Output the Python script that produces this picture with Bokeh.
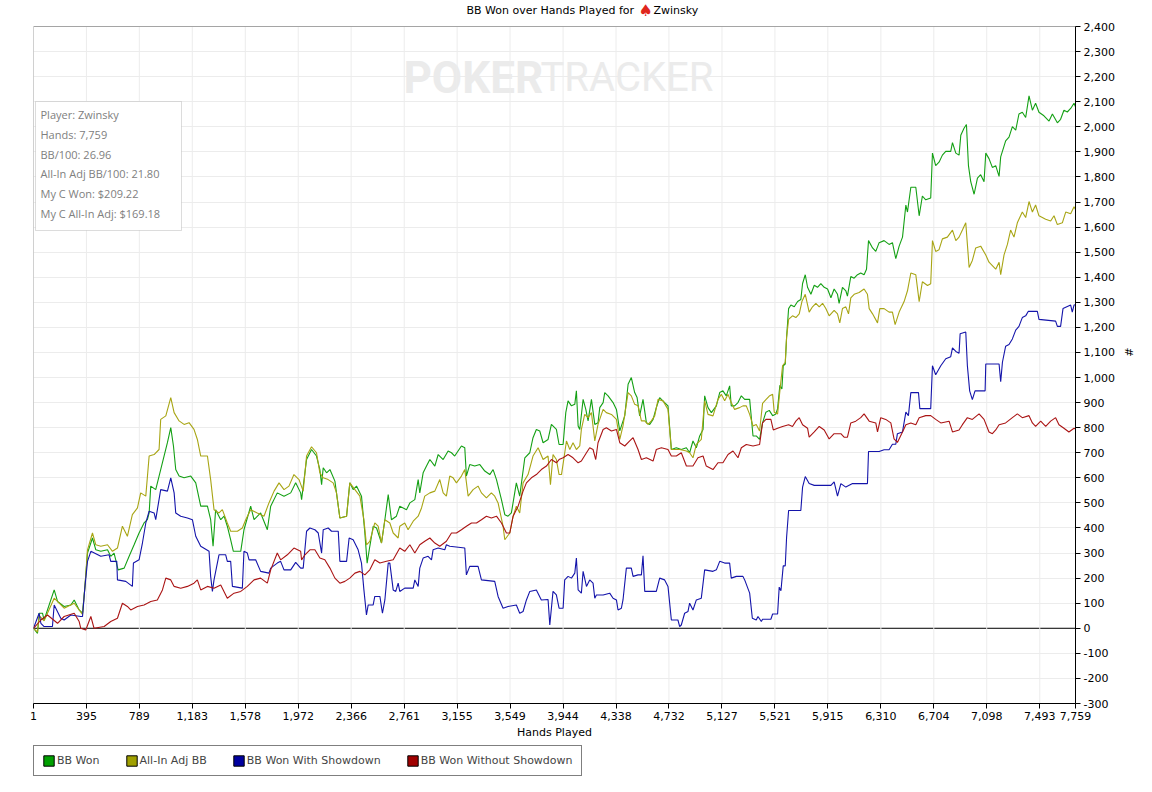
from bokeh.plotting import figure
from bokeh.layouts import column
from bokeh.models import (Range1d, FixedTicker, NumeralTickFormatter, Legend, LegendItem,
                          Span, Label, BoxAnnotation)
from bokeh.embed import file_html
from bokeh.resources import INLINE

# ---------------- data (hands played, BB) ----------------
x_ticks = [1, 395, 789, 1183, 1578, 1972, 2366, 2761, 3155, 3549, 3944, 4338, 4732,
           5127, 5521, 5915, 6310, 6704, 7098, 7493, 7759]
y_ticks = [-300, -200, -100, 0, 100, 200, 300, 400, 500, 600, 700, 800, 900, 1000, 1100,
           1200, 1300, 1400, 1500, 1600, 1700, 1800, 1900, 2000, 2100, 2200, 2300, 2400]

title_parts = ["BB Won over Hands Played for", "\u2660", "Zwinsky"]
series_names = ["BB Won", "All-In Adj BB", "BB Won With Showdown", "BB Won Without Showdown"]

info_lines = ["Player: Zwinsky", "Hands: 7,759", "BB/100: 26.96",
              "All-In Adj BB/100: 21.80", "My C Won: $209.22", "My C All-In Adj: $169.18"]

bb_won = [(1,0),(31,-20),(43,60),(68,60),(80,33),(155,153),(180,107),(229,87),(279,93),(304,113),
    (341,73),(366,60),(383,160),(403,300),(440,360),(465,313),(502,307),(552,313),(576,287),(601,300),
    (631,233),(676,240),(713,287),(750,333),(787,380),(824,420),(849,433),(862,460),(874,567),(911,553),
    (936,607),(973,687),(998,740),(1023,800),(1043,727),(1060,633),(1085,607),(1122,600),(1172,607),
    (1209,580),(1246,487),(1296,487),(1320,433),(1338,327),(1357,473),(1395,433),(1420,447),(1444,407),
    (1469,353),(1489,307),(1544,307),(1568,393),(1618,487),(1643,433),(1692,460),(1742,393),(1767,487),
    (1816,540),(1866,527),(1916,540),(1953,580),(1990,540),(1997,513),(2034,673),(2071,713),(2108,687),
    (2133,633),(2146,573),(2158,640),(2183,620),(2208,633),(2245,587),(2282,440),(2332,447),(2356,580),
    (2381,553),(2406,567),(2443,527),(2468,380),(2485,260),(2505,327),(2530,407),(2555,400),(2592,340),
    (2617,433),(2642,533),(2666,433),(2703,447),(2728,487),(2778,473),(2803,500),(2840,513),(2865,593),
    (2877,540),(2902,620),(2927,647),(2952,673),(2989,647),(3014,693),(3051,673),(3088,707),(3113,700),
    (3137,687),(3162,707),(3187,727),(3212,720),(3224,607),(3249,653),(3286,647),(3324,653),(3361,627),
    (3398,613),(3423,633),(3448,593),(3485,513),(3510,453),(3534,447),(3559,460),(3596,580),(3621,527),
    (3659,680),(3696,700),(3720,760),(3745,793),(3770,787),(3795,740),(3832,753),(3857,813),(3894,793),
    (3914,733),(3944,733),(3964,860),(3981,907),(4006,887),(4031,893),(4043,947),(4056,807),(4068,793),
    (4093,913),(4113,873),(4130,827),(4155,913),(4180,813),(4204,820),(4217,880),(4242,900),(4254,940),
    (4279,927),(4316,900),(4341,873),(4366,787),(4403,847),(4428,973),(4452,1000),(4477,940),(4495,920),
    (4514,847),(4539,913),(4564,820),(4589,813),(4614,833),(4638,880),(4663,920),(4700,900),(4725,887),
    (4750,713),(4787,720),(4824,713),(4862,720),(4886,700),(4911,747),(4936,720),(4961,767),(4986,793),
    (4998,927),(5023,880),(5048,860),(5085,887),(5110,940),(5134,947),(5159,927),(5184,967),(5196,887),
    (5221,887),(5246,900),(5271,927),(5296,913),(5333,913),(5358,767),(5382,767),(5407,753),
    (5429,819),(5454,862),(5479,869),(5504,848),(5528,855),(5541,876),(5558,969),(5573,954),(5583,1047),
    (5598,1054),(5608,1161),(5623,1275),(5640,1289),(5665,1282),(5690,1303),(5714,1311),(5727,1375),
    (5747,1410),(5764,1360),(5789,1332),(5814,1368),(5838,1360),(5863,1375),(5888,1360),(5913,1353),
    (5938,1318),(5962,1353),(5987,1332),(5999,1296),(6024,1360),(6049,1346),(6061,1325),(6086,1403),
    (6111,1396),(6136,1410),(6160,1417),(6185,1410),(6203,1432),(6218,1546),(6248,1517),(6272,1503),
    (6297,1538),(6334,1546),(6371,1531),(6396,1538),(6421,1474),(6446,1524),(6471,1560),(6496,1688),
    (6508,1660),(6533,1759),(6570,1759),(6595,1645),(6619,1724),(6644,1709),(6681,1716),(6694,1895),
    (6718,1845),(6743,1859),(6768,1887),(6793,1902),(6830,1902),(6843,1937),(6868,1895),(6892,1887),
    (6905,1966),(6929,1994),(6947,2009),(6962,1845),(6979,1781),(7004,1731),(7029,1795),(7053,1809),
    (7078,1781),(7091,1895),(7115,1873),(7140,1838),(7165,1845),(7190,1802),(7202,1880),(7239,1944),
    (7264,1959),(7289,2001),(7314,1987),(7338,2051),(7363,2058),(7388,2037),(7413,2123),(7438,2066),
    (7462,2094),(7487,2058),(7524,2044),(7562,2023),(7587,2051),(7624,2016),(7648,2030),(7673,2066),
    (7698,2059),(7723,2073),(7748,2094),(7759,2080)]

allin_adj_bb = [(1,0),(31,-15),(43,50),(80,30),(155,120),(229,80),(304,100),(366,55),(383,160),(403,313),
    (440,380),(465,333),(502,327),(552,333),(589,307),(626,320),(663,407),(700,367),(737,453),(775,480),
    (799,540),(837,527),(862,687),(899,693),(936,713),(948,833),(986,847),(1023,920),(1048,860),(1085,827),
    (1122,813),(1159,820),(1196,793),(1221,753),(1246,687),(1296,687),(1320,593),(1345,473),(1382,460),
    (1407,473),(1444,420),(1469,387),(1519,387),(1556,400),(1581,433),(1618,473),(1667,460),(1717,447),
    (1754,500),(1792,547),(1829,580),(1866,553),(1903,567),(1940,613),(1978,593),(2009,547),(2034,687),
    (2071,724),(2108,700),(2133,620),(2158,600),(2195,593),(2232,580),(2257,540),(2282,440),(2332,447),
    (2356,580),(2394,553),(2431,527),(2461,433),(2480,333),(2505,347),(2542,420),(2567,407),(2592,340),
    (2617,433),(2654,420),(2679,380),(2716,360),(2728,407),(2765,420),(2790,393),(2828,427),(2865,447),
    (2890,480),(2914,527),(2952,540),(2989,547),(3026,593),(3051,540),(3075,527),(3100,607),(3125,600),
    (3150,580),(3187,607),(3212,633),(3237,527),(3274,553),(3311,567),(3336,540),(3373,520),(3410,540),
    (3435,527),(3460,500),(3497,407),(3510,353),(3547,380),(3572,447),(3596,487),(3621,460),(3646,580),
    (3683,613),(3720,687),(3758,720),(3795,673),(3832,687),(3850,573),(3869,693),(3894,673),(3914,613),
    (3932,613),(3949,673),(3969,747),(3994,713),(4018,740),(4043,713),(4068,727),(4080,793),(4105,853),
    (4130,840),(4155,860),(4180,747),(4204,813),(4242,873),(4266,860),(4304,853),(4341,833),(4366,753),
    (4390,807),(4428,940),(4452,927),(4477,893),(4502,887),(4527,827),(4552,827),(4576,813),(4601,827),
    (4626,847),(4651,913),(4688,907),(4725,873),(4750,713),(4812,713),(4862,707),(4886,700),(4911,680),
    (4936,733),(4973,753),(4998,907),(5023,853),(5060,847),(5097,913),(5122,933),(5147,907),(5172,933),
    (5196,900),(5221,873),(5258,880),(5283,887),(5308,887),(5333,853),(5358,807),(5382,813),(5407,787),
    (5429,897),(5454,912),(5479,926),(5504,933),(5516,862),(5541,855),(5558,947),(5578,1047),(5598,1061),
    (5608,1161),(5623,1232),(5652,1246),(5677,1239),(5702,1254),(5722,1303),(5747,1332),(5776,1261),
    (5801,1282),(5826,1296),(5851,1282),(5876,1296),(5900,1275),(5925,1246),(5962,1268),(5987,1254),
    (6004,1218),(6024,1275),(6049,1282),(6069,1254),(6086,1318),(6111,1332),(6148,1339),(6185,1353),
    (6210,1332),(6223,1275),(6248,1254),(6285,1218),(6302,1275),(6334,1275),(6371,1261),(6396,1261),
    (6416,1211),(6446,1261),(6483,1303),(6508,1346),(6533,1417),(6570,1410),(6595,1303),(6619,1382),
    (6657,1367),(6681,1374),(6694,1546),(6718,1503),(6743,1510),(6768,1553),(6805,1560),(6843,1588),
    (6868,1546),(6892,1560),(6917,1588),(6942,1617),(6967,1439),(6991,1467),(7016,1517),(7053,1524),
    (7091,1489),(7115,1460),(7140,1446),(7165,1432),(7190,1460),(7202,1410),(7227,1489),(7252,1531),
    (7276,1588),(7301,1560),(7326,1617),(7363,1660),(7388,1638),(7413,1702),(7438,1660),(7462,1688),
    (7487,1645),(7537,1631),(7574,1624),(7599,1645),(7624,1610),(7661,1617),(7686,1660),(7723,1653),
    (7748,1681),(7759,1670)]

bb_with_showdown = [(1,0),(43,60),(56,20),(80,7),(142,7),(155,93),(204,40),(229,33),(279,53),(353,47),
    (366,47),(383,160),(403,267),(428,307),(502,287),(564,293),(576,267),(621,267),(626,193),(688,187),
    (737,167),(745,260),(787,273),(812,340),(837,420),(862,467),(899,460),(911,433),(948,553),(998,547),
    (1023,600),(1048,540),(1060,460),(1097,447),(1147,440),(1184,433),(1209,367),(1246,327),(1308,307),
    (1320,207),(1333,147),(1345,193),(1382,293),(1432,293),(1444,267),(1469,267),(1482,167),(1556,160),
    (1568,307),(1593,300),(1606,273),(1655,273),(1692,227),(1754,220),(1767,240),(1816,260),(1841,267),
    (1866,233),(1916,233),(1953,263),(1990,240),(2009,240),(2034,387),(2059,400),(2096,393),(2121,380),
    (2146,300),(2158,393),(2195,400),(2220,387),(2270,387),(2282,267),(2332,267),(2351,360),(2381,353),
    (2418,313),(2443,260),(2461,153),(2480,53),(2493,93),(2530,93),(2542,127),(2580,127),(2599,60),
    (2617,113),(2642,260),(2654,260),(2679,153),(2698,147),(2716,180),(2728,147),(2765,160),(2828,160),
    (2840,193),(2865,167),(2877,240),(2902,280),(2939,287),(2964,273),(2976,313),(3014,320),(3063,313),
    (3075,333),(3100,327),(3212,320),(3224,213),(3249,247),(3311,247),(3336,193),(3435,187),(3460,127),
    (3497,80),(3534,87),(3596,93),(3621,60),(3646,67),(3671,113),(3696,147),(3745,153),(3782,113),
    (3832,115),(3845,13),(3869,147),(3894,133),(3914,80),(3944,80),(3956,193),(3981,207),(4006,200),
    (4031,220),(4043,280),(4056,153),(4080,140),(4093,227),(4118,167),(4142,193),(4167,180),(4180,120),
    (4192,133),(4242,133),(4291,140),(4316,120),(4341,113),(4353,73),(4378,80),(4390,113),(4415,240),
    (4452,240),(4465,207),(4502,213),(4527,213),(4539,289),(4552,147),(4638,147),(4663,200),(4700,193),
    (4725,167),(4750,33),(4799,33),(4812,7),(4824,13),(4849,60),(4874,67),(4886,100),(4911,73),(4936,113),
    (4973,120),(4998,233),(5060,227),(5085,233),(5110,267),(5147,260),(5184,260),(5196,200),(5234,207),
    (5283,207),(5296,193),(5333,140),(5353,40),(5382,33),(5395,47),(5420,27),(5429,36),(5491,36),
    (5504,57),(5541,57),(5553,164),(5566,150),(5583,249),(5598,249),(5608,363),(5623,470),(5714,470),
    (5727,563),(5747,605),(5776,577),(5814,570),(5900,570),(5938,570),(5962,584),(5987,527),(6012,577),
    (6049,563),(6099,577),(6210,577),(6218,705),(6297,705),(6334,712),(6371,712),(6396,734),(6421,734),
    (6433,776),(6471,783),(6496,862),(6515,848),(6533,940),(6590,940),(6600,876),(6681,876),(6694,1047),
    (6718,1011),(6756,1047),(6793,1075),(6830,1083),(6843,1118),(6868,1104),(6892,1097),(6900,1175),
    (6942,1182),(6954,1047),(6971,947),(6991,912),(7011,947),(7086,947),(7091,1054),(7190,1054),
    (7202,983),(7215,1061),(7239,1125),(7264,1132),(7289,1154),(7314,1189),(7338,1204),(7363,1239),
    (7388,1246),(7408,1264),(7475,1264),(7487,1232),(7611,1225),(7624,1204),(7648,1204),(7666,1275),
    (7723,1289),(7735,1261),(7748,1289),(7759,1290)]

bb_without_showdown = [(1,0),(56,33),(105,53),(180,20),(229,47),(304,60),(341,27),(353,0),(390,-7),
    (428,47),(452,0),(527,7),(576,27),(626,40),(663,100),(700,87),(725,73),(775,87),(824,93),(874,107),
    (923,113),(961,153),(986,200),(1023,193),(1048,167),(1097,160),(1147,167),(1196,180),(1221,193),
    (1246,153),(1296,167),(1345,160),(1395,173),(1444,120),(1494,140),(1544,147),(1593,167),(1643,193),
    (1692,200),(1742,180),(1767,233),(1816,300),(1841,273),(1891,293),(1940,320),(1990,307),(1997,273),
    (2022,293),(2059,313),(2096,313),(2133,280),(2170,273),(2208,240),(2245,200),(2282,180),(2319,187),
    (2356,200),(2394,220),(2431,227),(2468,213),(2505,233),(2542,273),(2580,260),(2629,267),(2679,273),
    (2728,320),(2765,307),(2803,333),(2840,300),(2877,333),(2914,347),(2952,360),(2989,340),(3026,327),
    (3075,347),(3113,380),(3150,380),(3187,393),(3224,407),(3262,420),(3299,420),(3336,433),(3373,447),
    (3410,440),(3448,447),(3485,420),(3522,380),(3547,380),(3572,447),(3609,487),(3646,547),(3671,580),
    (3708,600),(3745,613),(3782,633),(3820,647),(3857,673),(3894,660),(3914,673),(3944,680),(3981,693),
    (4018,680),(4056,660),(4080,667),(4118,700),(4142,720),(4167,713),(4187,673),(4204,740),(4242,793),
    (4266,800),(4304,787),(4341,793),(4366,740),(4403,727),(4440,747),(4465,760),(4502,713),(4527,673),
    (4564,680),(4614,667),(4638,713),(4676,720),(4725,713),(4750,687),(4787,687),(4824,700),(4862,647),
    (4911,647),(4948,680),(4986,687),(5010,647),(5060,633),(5097,660),(5134,660),(5172,693),(5209,707),
    (5246,680),(5271,720),(5308,733),(5358,727),(5407,733),(5429,819),(5454,833),(5491,833),(5509,791),
    (5541,798),(5578,805),(5623,812),(5652,805),(5677,826),(5702,840),(5727,812),(5764,798),(5776,762),
    (5814,783),(5851,805),(5888,791),(5925,755),(5962,776),(6012,776),(6036,762),(6061,762),(6086,819),
    (6123,826),(6160,840),(6185,855),(6223,826),(6272,819),(6285,783),(6309,840),(6346,833),(6384,819),
    (6408,755),(6433,741),(6471,783),(6496,812),(6533,819),(6570,812),(6595,840),(6644,848),(6681,848),
    (6718,833),(6756,819),(6818,826),(6843,783),(6892,791),(6917,812),(6954,840),(6991,833),(7041,855),
    (7078,833),(7115,783),(7140,776),(7165,791),(7190,812),(7239,819),(7289,840),(7326,855),(7363,840),
    (7413,848),(7438,819),(7462,805),(7500,826),(7537,805),(7574,826),(7611,840),(7636,812),(7673,798),
    (7710,783),(7748,798),(7759,795)]

line_colors = ["#14a014", "#a8a514", "#1414aa", "#aa1414"]
legend_colors = ["#00a000", "#a0a000", "#0000a0", "#a00000"]

# ---------------- layout constants (pixels) ----------------
FONT = "DejaVu Sans"
PLOT_TOP = 26          # top of the plotting box, px from canvas top
PLOT_H = 677           # height of the plotting box
FRAME_H = PLOT_H + PLOT_TOP   # frame extends up to the canvas top to host the title
BOTTOM = 39            # room for the x axis below the box

y_lo, y_hi = y_ticks[0], y_ticks[-1]
y_top = y_hi + PLOT_TOP * (y_hi - y_lo) / PLOT_H

p = figure(frame_width=1042, frame_height=FRAME_H, output_backend="svg", toolbar_location=None,
           title_location=None,
           x_range=Range1d(x_ticks[0], x_ticks[-1]), y_range=Range1d(y_lo, y_top),
           y_axis_location="right",
           min_border_left=33, min_border_top=0, min_border_bottom=BOTTOM, min_border_right=8,
           background_fill_color="white", border_fill_color="white")
p.outline_line_color = None

# axes
p.xaxis.ticker = FixedTicker(ticks=x_ticks)
p.xaxis.formatter = NumeralTickFormatter(format="0,0")
p.yaxis.ticker = FixedTicker(ticks=y_ticks)
p.yaxis.formatter = NumeralTickFormatter(format="0,0")
p.yaxis.bounds = (y_lo, y_hi)
for ax in (p.xaxis, p.yaxis):
    ax.axis_line_color = "black"
    ax.major_tick_line_color = "black"
    ax.major_tick_out = 5
    ax.major_tick_in = 0
    ax.minor_tick_line_color = None
    ax.major_label_text_font = FONT
    ax.major_label_text_font_size = "11px"
    ax.major_label_text_color = "black"
    ax.axis_label_text_font = FONT
    ax.axis_label_text_font_size = "11px"
    ax.axis_label_text_font_style = "normal"
    ax.axis_label_text_color = "black"
p.xaxis.axis_label = "Hands Played"
p.xaxis.major_label_standoff = 3
p.xaxis.axis_label_standoff = 3
p.yaxis.axis_label = "#"
p.yaxis.major_label_standoff = 3
p.yaxis.axis_label_standoff = 4

# grid: horizontal from ygrid, vertical drawn only inside the plotting box
p.xgrid.grid_line_color = None
p.ygrid.grid_line_color = "#ececec"
p.segment(x0=x_ticks, y0=[y_lo] * len(x_ticks), x1=x_ticks, y1=[y_hi] * len(x_ticks),
          line_color="#ececec", line_width=1)

# watermark
p.add_layout(Label(x=370, y=626, x_units="screen", y_units="screen", text="POKER",
                   text_font="Roboto", text_font_style="bold", text_font_size="44px",
                   text_color="#ebebeb", text_baseline="middle", level="underlay"))
p.add_layout(Label(x=507, y=626, x_units="screen", y_units="screen", text="TRACKER",
                   text_font="Roboto", text_font_style="normal", text_font_size="40px",
                   text_color="#ebebeb", text_baseline="middle", level="underlay"))

p.add_layout(Span(location=0, dimension="width", line_color="black", line_width=1, level="underlay"))

# series
all_series = [bb_won, allin_adj_bb, bb_with_showdown, bb_without_showdown]
for pts, c in zip(all_series, line_colors):
    xs = [a for a, b in pts]
    ys = [b for a, b in pts]
    p.line(xs, ys, line_color=c, line_width=1.1)

# plotting-box outline
p.add_layout(BoxAnnotation(left=x_ticks[0], right=x_ticks[-1], bottom=y_lo, top=y_hi,
                           fill_alpha=0, line_color="black", line_width=1))

# title (inside the extended frame)
TY = FRAME_H - 9.5
p.add_layout(Label(x=433, y=TY, x_units="screen", y_units="screen", text=title_parts[0],
                   text_font=FONT, text_font_size="11px", text_color="black",
                   text_baseline="middle"))
p.add_layout(Label(x=605, y=TY, x_units="screen", y_units="screen", text=title_parts[1],
                   text_font=FONT, text_font_size="16px", text_color="#e0261c",
                   text_baseline="middle"))
p.add_layout(Label(x=620, y=TY, x_units="screen", y_units="screen", text=title_parts[2],
                   text_font=FONT, text_font_size="11px", text_color="black",
                   text_baseline="middle"))

# info box
p.add_layout(BoxAnnotation(left=2, right=148, top=602, bottom=473, left_units="screen",
                           right_units="screen", top_units="screen", bottom_units="screen",
                           fill_color="white", fill_alpha=1.0, line_color="#8a8a8a", line_width=1))
for i, t in enumerate(info_lines):
    p.add_layout(Label(x=7, y=589 - i * 19.8, x_units="screen", y_units="screen", text=t,
                       text_font="Open Sans", text_font_size="11px", text_color="#808080",
                       text_baseline="middle"))

# ---------------- legend strip (second figure, frame aligned with the main one) ----------------
LEG_H = 44
q = figure(width=1152, height=LEG_H, output_backend="svg", toolbar_location=None,
           title_location=None, x_axis_location=None, y_axis_location=None,
           x_range=Range1d(0, 1), y_range=Range1d(0, 1),
           min_border=0, background_fill_color="white", border_fill_color="white")
q.grid.visible = False
q.outline_line_color = None
items = []
for name, c in zip(series_names, legend_colors):
    # swatch renderer kept outside the visible range; only its legend square shows
    r = q.quad(left=[5], right=[6], top=[6], bottom=[5], fill_color=c, line_color="black")
    items.append(LegendItem(label=name, renderers=[r]))
legend = Legend(items=items, orientation="horizontal", location=(0, 10),
                border_line_color="black", border_line_width=1, background_fill_color="white",
                glyph_width=13, glyph_height=13, label_standoff=2, spacing=25, padding=8,
                margin=0, label_text_font=FONT, label_text_font_size="11px", label_height=13)
q.add_layout(legend, "center")

layout = column(p, q, spacing=0)
open("out.html", "w").write(file_html(layout, INLINE))
